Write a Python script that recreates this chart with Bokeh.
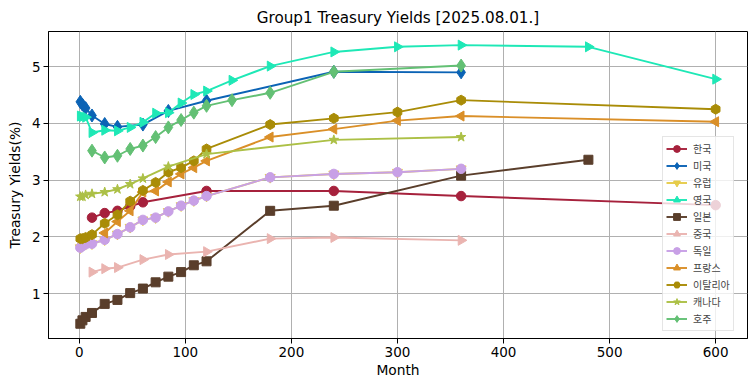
import math
from bokeh.plotting import figure
from bokeh.models import FixedTicker, Range1d
from bokeh.embed import file_html
from bokeh.resources import INLINE

# ---- data (months, yields %) ----
kr_m = [12, 24, 36, 48, 60, 120, 240, 360, 600]
kr_v = [2.34, 2.42, 2.46, 2.54, 2.61, 2.81, 2.81, 2.72, 2.56]

us_m = [1, 3, 6, 12, 24, 36, 60, 84, 120, 240, 360]
us_v = [4.38, 4.33, 4.27, 4.14, 3.99, 3.94, 3.98, 4.22, 4.40, 4.91, 4.90]

de_m = [1, 3, 6, 12, 24, 36, 48, 60, 72, 84, 96, 108, 120, 180, 240, 300, 360]
de_v = [1.81, 1.84, 1.87, 1.88, 1.95, 2.05, 2.17, 2.30, 2.34, 2.45, 2.55, 2.64, 2.72, 3.05, 3.11, 3.14, 3.20]

eu_m = [1, 3, 6, 12, 24, 36, 48, 60, 72, 84, 96, 108, 120, 180, 240, 300, 360]
eu_v = [1.81, 1.84, 1.87, 1.88, 1.95, 2.05, 2.17, 2.30, 2.34, 2.45, 2.55, 2.64, 2.72, 3.05, 3.11, 3.14, 3.20]

uk_m = [1, 3, 6, 12, 24, 36, 48, 60, 72, 84, 96, 108, 120, 144, 180, 240, 300, 360, 480, 600]
uk_v = [4.13, 4.12, 4.11, 3.84, 3.88, 3.87, 3.93, 4.02, 4.18, 4.19, 4.36, 4.51, 4.57, 4.76, 5.01, 5.26, 5.35, 5.38, 5.35, 4.78]

jp_m = [1, 3, 6, 12, 24, 36, 48, 60, 72, 84, 96, 108, 120, 180, 240, 360, 480]
jp_v = [0.47, 0.53, 0.59, 0.66, 0.82, 0.89, 1.01, 1.09, 1.20, 1.30, 1.38, 1.50, 1.57, 2.46, 2.55, 3.08, 3.36]

cn_m = [12, 24, 36, 60, 84, 120, 180, 240, 360]
cn_v = [1.38, 1.44, 1.46, 1.60, 1.69, 1.74, 1.97, 1.99, 1.94]

fr_m = [24, 36, 48, 60, 72, 84, 96, 108, 120, 180, 240, 300, 360, 600]
fr_v = [2.07, 2.27, 2.46, 2.79, 2.81, 2.97, 3.11, 3.22, 3.34, 3.76, 3.90, 4.05, 4.13, 4.03]

it_m = [1, 3, 6, 12, 24, 36, 48, 60, 72, 84, 96, 108, 120, 180, 240, 300, 360, 600]
it_v = [1.97, 1.97, 1.99, 2.04, 2.24, 2.39, 2.63, 2.82, 2.96, 3.14, 3.22, 3.34, 3.55, 3.98, 4.09, 4.20, 4.41, 4.25]

ca_m = [1, 3, 6, 12, 24, 36, 48, 60, 84, 120, 240, 360]
ca_v = [2.71, 2.71, 2.74, 2.76, 2.79, 2.84, 2.93, 3.03, 3.24, 3.46, 3.71, 3.76]

au_m = [12, 24, 36, 48, 60, 72, 84, 96, 108, 120, 144, 180, 240, 360]
au_v = [3.52, 3.40, 3.43, 3.55, 3.61, 3.76, 3.93, 4.06, 4.19, 4.31, 4.41, 4.54, 4.91, 5.02]

names = ["한국", "미국", "유럽", "영국", "일본", "중국", "독일", "프랑스", "이탈리아", "캐나다", "호주"]
x_ticks = [0, 100, 200, 300, 400, 500, 600]
y_ticks = [1, 2, 3, 4, 5]

series = [
    (names[0], kr_m, kr_v, "#a6213c", "circle", 0.0, 9.5),
    (names[1], us_m, us_v, "#0b63b5", "diamond", 0.0, 13),
    (names[2], eu_m, eu_v, "#e6cc4a", "inverted_triangle", 0.0, 10),
    (names[3], uk_m, uk_v, "#1ee8b6", "triangle", -math.pi / 2, 10),
    (names[4], jp_m, jp_v, "#5a3e2b", "square", 0.0, 9),
    (names[5], cn_m, cn_v, "#eab4b0", "triangle", -math.pi / 2, 10),
    (names[6], de_m, de_v, "#c8a0e6", "circle", 0.0, 9.5),
    (names[7], fr_m, fr_v, "#da8f28", "triangle", math.pi / 2, 10),
    (names[8], it_m, it_v, "#a98c07", "hex", math.pi / 2, 10),
    (names[9], ca_m, ca_v, "#acc046", "star", 0.0, 10),
    (names[10], au_m, au_v, "#63c074", "diamond", 0.0, 13),
]

p = figure(width=755, height=391, output_backend="svg", toolbar_location=None,
           x_range=Range1d(-29, 630), y_range=Range1d(0.21, 5.62),
           title="Group1 Treasury Yields [2025.08.01.]",
           min_border_left=48, min_border_right=8, min_border_top=31, min_border_bottom=53)

for name, xs, ys, col, mk, ang, sz in series:
    p.line(xs, ys, line_color=col, line_width=1.9, legend_label=name)
    p.scatter(xs, ys, marker=mk, size=sz, angle=ang, fill_color=col, line_color=col,
              legend_label=name)

p.title.align = "center"
p.title.text_font = "DejaVu Sans"
p.title.text_font_size = "15.2px"
p.title.text_font_style = "normal"
p.title.text_color = "black"

p.xaxis.ticker = FixedTicker(ticks=x_ticks)
p.yaxis.ticker = FixedTicker(ticks=y_ticks)
p.xaxis.axis_label = "Month"
p.yaxis.axis_label = "Treasury Yields(%)"
for ax in (p.xaxis, p.yaxis):
    ax.axis_label_text_font = "DejaVu Sans"
    ax.axis_label_text_font_size = "13.8px"
    ax.axis_label_text_font_style = "normal"
    ax.axis_label_text_color = "black"
    ax.major_label_text_font = "DejaVu Sans"
    ax.major_label_text_font_size = "13.5px"
    ax.major_label_text_color = "black"
    ax.minor_tick_line_color = None
    ax.major_tick_in = 0
    ax.major_tick_out = 5
    ax.major_tick_line_color = "black"
    ax.axis_line_color = "black"
p.xaxis.major_label_standoff = 3
p.yaxis.major_label_standoff = 3
p.xaxis.axis_label_standoff = 2
p.yaxis.axis_label_standoff = 6

p.grid.grid_line_color = "#b0b0b0"
p.grid.grid_line_width = 1
p.outline_line_color = "black"
p.outline_line_width = 1
p.background_fill_color = "white"
p.border_fill_color = "white"

lg = p.legend[0]
lg.location = (614, 7)
lg.label_text_font = "Noto Sans CJK KR"
lg.label_text_font_size = "10px"
lg.glyph_width = 21
lg.glyph_height = 17
lg.label_height = 17
lg.label_standoff = 6
lg.spacing = 0
lg.padding = 3
lg.margin = 0
lg.border_line_color = "#cccccc"
lg.border_line_width = 1
lg.background_fill_alpha = 0.8

open("out.html", "w").write(file_html(p, INLINE))
